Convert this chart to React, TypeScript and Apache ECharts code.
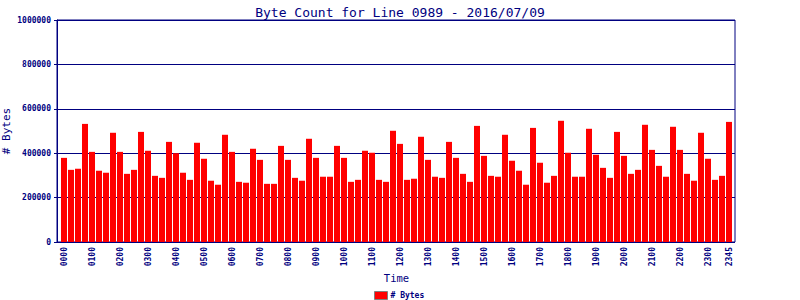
import React, { useEffect, useRef } from "react";
import * as echarts from "echarts";

const titleText = "Byte Count for Line 0989 - 2016/07/09";
const seriesName = "# Bytes";
const xAxisName = "Time";
const yAxisName = "# Bytes";

const times = [
  "0000", "0015", "0030", "0045", "0100", "0115", "0130", "0145",
  "0200", "0215", "0230", "0245", "0300", "0315", "0330", "0345",
  "0400", "0415", "0430", "0445", "0500", "0515", "0530", "0545",
  "0600", "0615", "0630", "0645", "0700", "0715", "0730", "0745",
  "0800", "0815", "0830", "0845", "0900", "0915", "0930", "0945",
  "1000", "1015", "1030", "1045", "1100", "1115", "1130", "1145",
  "1200", "1215", "1230", "1245", "1300", "1315", "1330", "1345",
  "1400", "1415", "1430", "1445", "1500", "1515", "1530", "1545",
  "1600", "1615", "1630", "1645", "1700", "1715", "1730", "1745",
  "1800", "1815", "1830", "1845", "1900", "1915", "1930", "1945",
  "2000", "2015", "2030", "2045", "2100", "2115", "2130", "2145",
  "2200", "2215", "2230", "2245", "2300", "2315", "2330", "2345",
];

const bytes = [
  379000, 325000, 330000, 532000, 406000, 321000, 312000, 492000,
  406000, 307000, 325000, 496000, 411000, 298000, 289000, 451000,
  400000, 312000, 280000, 447000, 375000, 276000, 258000, 483000,
  406000, 271000, 267000, 420000, 370000, 262000, 262000, 433000,
  370000, 289000, 276000, 465000, 379000, 294000, 294000, 433000,
  379000, 271000, 280000, 411000, 402000, 280000, 271000, 501000,
  442000, 280000, 285000, 474000, 370000, 294000, 289000, 451000,
  379000, 307000, 271000, 523000, 388000, 298000, 294000, 483000,
  366000, 321000, 258000, 514000, 357000, 267000, 298000, 546000,
  402000, 294000, 294000, 510000, 393000, 334000, 289000, 496000,
  388000, 307000, 325000, 528000, 415000, 343000, 294000, 519000,
  415000, 307000, 276000, 492000, 375000, 280000, 298000, 541000,
];

const yMin = 0;
const yMax = 1000000;
const yStep = 200000;

export default function App() {
  const ref = useRef<HTMLDivElement>(null);
  useEffect(() => {
    const chart = echarts.init(ref.current!, null, { renderer: "svg" });
    const navy = "#000080";
    const mono = "DejaVu Sans Mono";
    const last = times.length - 1;
    chart.setOption({
      animation: false,
      backgroundColor: "#ffffff",
      title: {
        text: titleText,
        left: "center",
        top: 1,
        textStyle: { color: navy, fontFamily: mono, fontSize: 13, fontWeight: "normal" },
      },
      grid: [
        { left: 57, right: 65, top: 20, bottom: 58, show: true, borderColor: navy, borderWidth: 1, backgroundColor: "transparent", containLabel: false, outerBoundsMode: "none" },
        { left: 60.5, right: 67.5, top: 20, bottom: 58, containLabel: false, outerBoundsMode: "none" },
      ],
      legend: {
        left: 374,
        top: 291,
        padding: 0,
        itemWidth: 13,
        itemHeight: 8,
        itemGap: 4,
        icon: "rect",
        itemStyle: { borderColor: "#808080", borderWidth: 1 },
        textStyle: { color: navy, fontFamily: mono, fontSize: 8, fontWeight: "bold", padding: [0, 0, 0, -2] },
        data: [seriesName],
      },
      xAxis: [
        { type: "value", gridIndex: 0, min: 0, max: 1, show: false },
        {
          type: "category",
          gridIndex: 1,
          data: times,
          axisLine: { show: false },
          axisTick: { show: false },
          axisLabel: {
            interval: (i: number) => i % 4 === 0 || i === last,
            rotate: 90,
            margin: 5,
            color: navy,
            fontFamily: mono,
            fontSize: 8,
            fontWeight: "bold",
          },
          name: xAxisName,
          nameLocation: "middle",
          nameGap: 30,
          nameMoveOverlap: false,
          nameTextStyle: { color: navy, fontFamily: mono, fontSize: 10.5 },
        },
      ],
      yAxis: [
        {
          type: "value",
          gridIndex: 0,
          min: yMin,
          max: yMax,
          interval: yStep,
          axisLine: { show: true, lineStyle: { color: navy, width: 1 } },
          axisTick: { show: true, length: 3, lineStyle: { color: navy, width: 1 } },
          splitLine: { show: true, lineStyle: { color: navy, width: 1 } },
          axisLabel: {
            color: navy,
            fontFamily: mono,
            fontSize: 8,
            fontWeight: "bold",
            margin: 6,
            formatter: (v: number) => String(v),
          },
          name: yAxisName,
          nameLocation: "middle",
          nameGap: 45,
          nameMoveOverlap: false,
          nameTextStyle: { color: navy, fontFamily: mono, fontSize: 11 },
        },
        { type: "value", gridIndex: 1, min: yMin, max: yMax, show: false },
      ],
      series: [
        {
          type: "bar",
          name: seriesName,
          data: bytes,
          xAxisIndex: 1,
          yAxisIndex: 1,
          barWidth: 6,
          itemStyle: { color: "#ff0000" },
        },
      ],
    });
    return () => chart.dispose();
  }, []);
  return <div ref={ref} style={{ position: "fixed", left: 0, top: 0, width: 800, height: 300 }} />;
}
